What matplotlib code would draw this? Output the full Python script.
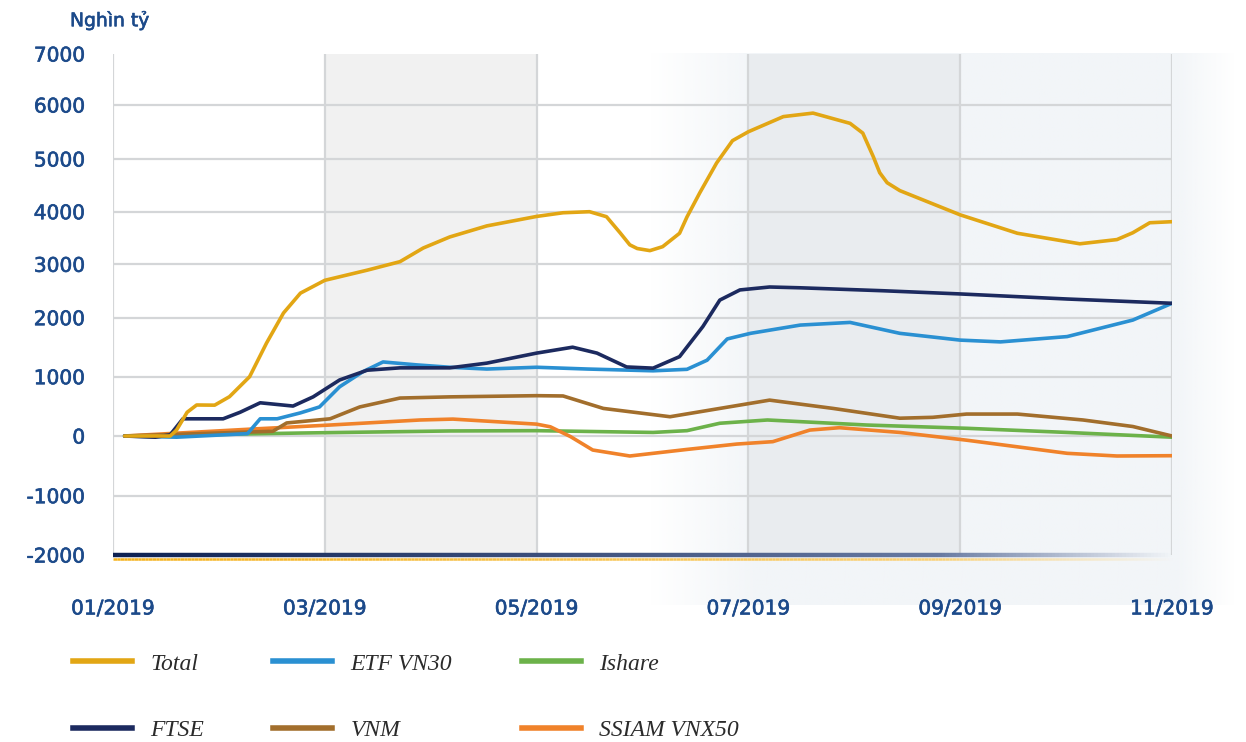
import numpy as np
import matplotlib
matplotlib.use('Agg')
import matplotlib.pyplot as plt
from matplotlib.collections import LineCollection
from matplotlib.lines import Line2D
from matplotlib import transforms as mtrans
from matplotlib import patheffects as pe
from matplotlib.colors import to_rgba

# ---------------- data ----------------
month_ticks = [0, 2, 4, 6, 8, 10]
month_labels = ['01/2019', '03/2019', '05/2019', '07/2019', '09/2019', '11/2019']
y_ticks = [-2000, -1000, 0, 1000, 2000, 3000, 4000, 5000, 6000, 7000]
y_unit = 'Nghìn tỷ'

total_x = [0.11, 0.54, 0.60, 0.70, 0.79, 0.96, 1.10, 1.29, 1.45, 1.61, 1.77, 2.00, 2.40, 2.71,
           2.93, 3.18, 3.53, 4.00, 4.25, 4.50, 4.66, 4.79, 4.88, 4.95, 5.07, 5.19, 5.35, 5.42,
           5.54, 5.70, 5.85, 6.00, 6.33, 6.61, 6.96, 7.08, 7.18, 7.24, 7.31, 7.43, 8.00, 8.54,
           9.13, 9.48, 9.63, 9.79, 10.0]
total_y = [0, 0, 100, 400, 523, 520, 663, 1000, 1571, 2088, 2460, 2700, 2890, 3050,
           3310, 3520, 3730, 3910, 3980, 4000, 3905, 3595, 3370, 3300, 3260, 3335, 3590, 3900,
           4355, 4925, 5340, 5505, 5785, 5850, 5660, 5480, 5040, 4740, 4550, 4400, 3940, 3590,
           3390, 3470, 3600, 3790, 3810]

ftse_x = [0.11, 0.40, 0.54, 0.66, 1.04, 1.20, 1.39, 1.70, 1.89, 2.14, 2.40, 2.71, 3.18, 3.53,
          4.00, 4.34, 4.57, 4.85, 5.10, 5.35, 5.57, 5.73, 5.92, 6.20, 6.49, 7.27, 8.00, 9.01, 10.0]
ftse_y = [0, -20, 20, 290, 290, 400, 560, 505, 660, 945, 1110, 1150, 1150, 1230,
          1400, 1500, 1400, 1165, 1145, 1340, 1850, 2330, 2520, 2575, 2560, 2505, 2445, 2350, 2270]

etf_x = [0.11, 0.60, 1.27, 1.39, 1.55, 1.77, 1.95, 2.14, 2.36, 2.55, 2.87, 3.18, 3.53, 4.00,
         4.48, 5.10, 5.42, 5.61, 5.80, 6.02, 6.49, 6.96, 7.43, 8.00, 8.38, 9.01, 9.63, 10.0]
etf_y = [0, -20, 40, 290, 290, 390, 490, 830, 1085, 1250, 1200, 1160, 1130, 1160,
         1130, 1100, 1125, 1280, 1640, 1735, 1875, 1920, 1735, 1620, 1590, 1680, 1960, 2270]

ishare_x = [0.11, 1.77, 3.18, 4.00, 5.10, 5.42, 5.73, 6.18, 7.12, 8.06, 9.01, 10.0]
ishare_y = [0, 50, 85, 90, 60, 90, 215, 270, 185, 130, 60, -20]

vnm_x = [0.11, 1.51, 1.64, 2.05, 2.33, 2.71, 3.18, 4.00, 4.25, 4.63, 5.26, 5.73, 6.20,
         6.80, 7.43, 7.74, 8.06, 8.54, 9.16, 9.63, 10.0]
vnm_y = [0, 80, 220, 290, 490, 640, 660, 680, 675, 465, 325, 465, 605,
         465, 300, 315, 370, 370, 270, 160, 0]

ssiam_x = [0.11, 1.29, 2.05, 2.90, 3.21, 4.00, 4.13, 4.32, 4.53, 4.88, 5.42, 5.89, 6.23,
           6.58, 6.86, 7.43, 8.06, 9.01, 9.48, 10.0]
ssiam_y = [0, 115, 185, 270, 285, 200, 155, -10, -235, -335, -225, -135, -95,
           100, 140, 60, -70, -290, -335, -330]

series = [
    ('Total', total_x, total_y, '#e2a614'),
    ('FTSE', ftse_x, ftse_y, '#1c2a5f'),
    ('ETF VN30', etf_x, etf_y, '#2a90d2'),
    ('VNM', vnm_x, vnm_y, '#a26e2c'),
    ('Ishare', ishare_x, ishare_y, '#6cb24a'),
    ('SSIAM VNX50', ssiam_x, ssiam_y, '#f0822a'),
]
draw_order = ['Ishare', 'SSIAM VNX50', 'VNM', 'ETF VN30', 'FTSE', 'Total']

# ---------------- style ----------------
W, H = 1246, 742
fig = plt.figure(figsize=(W / 100, H / 100), dpi=100)
blue_txt = '#1c4a8a'
thick = [pe.withStroke(linewidth=0.45, foreground=blue_txt)]

# background gradient panel (figure pixel space)
bg = fig.add_axes([0, 0, 1, 1], zorder=0)
bg.set_xlim(0, W)
bg.set_ylim(H, 0)
bg.axis('off')
xs = np.linspace(650, 1235, 600)
alpha = np.clip((xs - 650) / 110, 0, 1) * np.clip((1235 - xs) / 60, 0, 1)
grad = np.zeros((2, len(xs), 4))
grad[..., :3] = to_rgba('#f2f5f8')[:3]
grad[..., 3] = alpha
bg.imshow(grad, extent=[650, 1235, 605, 53], aspect='auto', interpolation='bilinear')

ax = fig.add_axes([113 / W, 1 - 555 / H, (1172 - 113) / W, (555 - 54) / H], zorder=1)
ax.set_facecolor('none')

# non-uniform vertical spacing of the original chart's value axis
axis_spacing = [0, 59.3, 119, 178.3, 237.3, 290.7, 343.3, 396, 450, 501]
fwd = lambda v: np.interp(v, y_ticks, axis_spacing)
inv = lambda p: np.interp(p, axis_spacing, y_ticks)
ax.set_yscale('function', functions=(fwd, inv))
ax.set_ylim(-2000, 7000)
ax.set_xlim(0, 10)

ax.axvspan(2, 4, color='#f1f1f1', zorder=0.2, lw=0)
ax.axvspan(6, 8, color='#e9ecef', zorder=0.2, lw=0)

for t in y_ticks[1:-1]:
    ax.axhline(t, color='#d4d6d8', lw=1.6, zorder=0.5)
for m in month_ticks:
    ax.axvline(m, color='#d4d6d8', lw=1.6, zorder=0.5)

for s in ax.spines.values():
    s.set_visible(False)

# bottom baseline with fading gradient
xx = np.linspace(0, 10, 300)
segs = [[(xx[i], -2000), (xx[i + 1], -2000)] for i in range(len(xx) - 1)]
xm = (xx[:-1] + xx[1:]) / 2
navy0 = np.array(to_rgba('#0d2152'))
navy1 = np.array(to_rgba('#6a7ca3'))
tt = np.clip(xm / 8, 0, 1)[:, None]
cn = navy0 * (1 - tt) + navy1 * tt
cn[:, 3] = np.clip((10 - xm) / 2.2, 0, 1)
ax.add_collection(LineCollection(segs, colors=cn, lw=3.2, zorder=4, clip_on=False,
                                 capstyle='butt'))
yel0 = np.array(to_rgba('#f5b21c'))
yel1 = np.array(to_rgba('#fad27a'))
cy = yel0 * (1 - tt) + yel1 * tt
cy[:, 3] = np.clip((10 - xm) / 2.2, 0, 1)
off = mtrans.offset_copy(ax.transData, fig=fig, x=0, y=-4, units='dots')
ax.add_collection(LineCollection(segs, colors=cy, lw=1.8, zorder=4, clip_on=False,
                                 transform=off, capstyle='butt'))

lines = {}
for name, x, y, c in series:
    z = 3 + draw_order.index(name) * 0.1
    ln, = ax.plot(x, y, color=c, lw=2.6, label=name, zorder=z, solid_capstyle='round',
                  solid_joinstyle='round')
    lines[name] = ln

ax.set_yticks(y_ticks)
ax.set_yticklabels([str(v) for v in y_ticks])
ax.set_xticks(month_ticks)
ax.set_xticklabels(month_labels)
ax.tick_params(axis='both', length=0, labelcolor=blue_txt, labelsize=14.5)
ax.tick_params(axis='y', pad=20)
ax.tick_params(axis='x', pad=32)
for lbl in ax.get_xticklabels() + ax.get_yticklabels():
    lbl.set_fontfamily('DejaVu Sans')
    lbl.set_fontweight('normal')
    lbl.set_path_effects(thick)

fig.text(70 / W, 1 - 20 / H, y_unit, color=blue_txt, fontsize=13.5, fontweight='normal',
         ha='left', va='center', family='DejaVu Sans', path_effects=thick)

# legend: columns (Total, FTSE), (ETF VN30, VNM), (Ishare, SSIAM VNX50)
order = ['Total', 'FTSE', 'ETF VN30', 'VNM', 'Ishare', 'SSIAM VNX50']
handles = [Line2D([], [], color=lines[n].get_color(), lw=4) for n in order]
leg = fig.legend(handles, order, loc='upper left', bbox_to_anchor=(73 / W, 1 - 653 / H),
                 ncol=3, frameon=False, borderpad=0, borderaxespad=0,
                 handlelength=2.5, handletextpad=0.76, columnspacing=2.95, labelspacing=1.9,
                 prop={'family': 'Liberation Serif', 'style': 'italic', 'size': 17})
for txt in leg.get_texts():
    txt.set_color('#2b2b2b')

fig.savefig('out.png', dpi=100)
